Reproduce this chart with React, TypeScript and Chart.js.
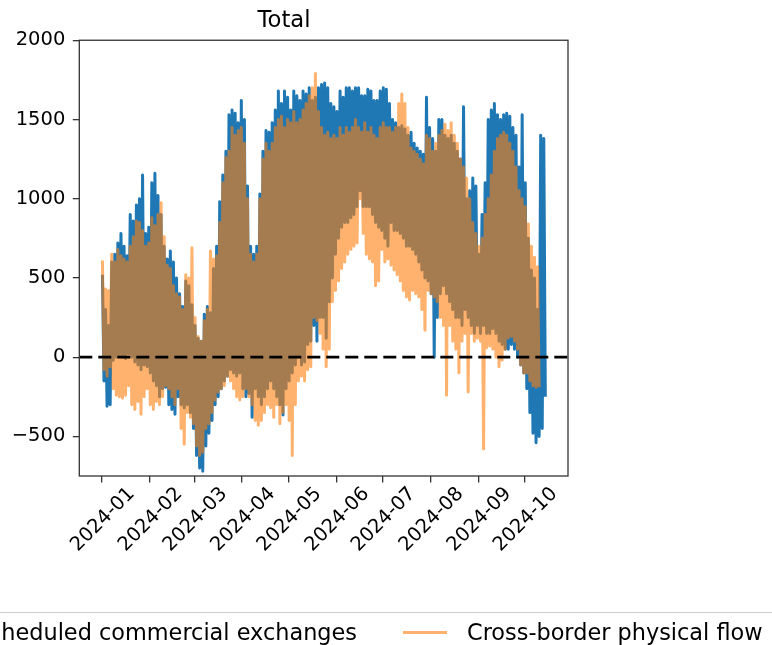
import React, { useEffect, useRef } from 'react';
import { Chart, registerables } from 'chart.js';

Chart.register(...registerables);

// Month tick positions (days since 2024-01-01) and labels
const monthTickDays = [0, 31, 60, 91, 121, 152, 182, 213, 244, 274];
const monthLabels = ['2024-01', '2024-02', '2024-03', '2024-04', '2024-05', '2024-06', '2024-07', '2024-08', '2024-09', '2024-10'];
const yTicks = [-500, 0, 500, 1000, 1500, 2000];

// Each entry = one 2-day period starting 2024-01-01 (high then low of the period)
const scheduledHigh = [
  520, 300, 200, 600, 650, 720, 780, 700, 640, 900,
  860, 960, 1000, 1150, 780, 820, 1100, 1160, 1020, 900,
  700, 620, 670, 600, 500, 400, 320, 480, 450, 330,
  200, 120, 100, 270, 320, 280, 560, 700, 980, 1150,
  1300, 1530, 1560, 1540, 1480, 1620, 1500, 1080, 700, 650,
  700, 1030, 1300, 1430, 1420, 1480, 1560, 1680, 1600, 1680,
  1640, 1560, 1680, 1650, 1620, 1680, 1660, 1700, 1620, 1640,
  1700, 1720, 1730, 1700, 1600, 1580, 1550, 1680, 1640, 1700,
  1700, 1680, 1700, 1700, 1650, 1650, 1690, 1680, 1620, 1620,
  1680, 1700, 1690, 1600, 1500, 1480, 1450, 1460, 1440, 1400,
  1420, 1350, 1320, 1300, 1280, 1640, 1450, 1380, 1300, 1500,
  1500, 1400, 1380, 1400, 1350, 1300, 1250, 1580, 1000, 1050,
  1130, 1080, 650, 900, 1100, 1500, 1560, 1600, 1530, 1500,
  1530, 1540, 1520, 1450, 1400, 1200, 1530, 1100, 750, 550,
  500, 300, 1400, 1380,
];
const scheduledLow = [
  -150, -310, -300, -20, 0, 10, 0, -10, 20, 0,
  -30, -50, -80, -50, -60, -100, -150, -180, -250, -200,
  -190, -300, -330, -360, -250, -300, -320, -300, -350, -450,
  -620, -700, -720, -560, -480, -400, -300, -250, -200, -150,
  -120, -80, -100, -120, -100, -200, -250, -230, -380, -200,
  -250, -300, -250, -200, -150, -200, -250, -300, -365, -200,
  -150, -100, -50, 0, -50, -30, 80, 100, 200, 100,
  250, 250, 120, 350, 500, 650, 750, 820, 850, 850,
  880, 900, 950, 1050, 950, 950, 950, 900, 850, 820,
  800, 750, 700, 850, 800, 800, 780, 750, 700, 700,
  680, 650, 600, 550, 500, 480, 400, 0, 250, 400,
  450, 400, 350, 300, 250, 250, 200, 300, 250, 200,
  150, 200, 150, 200, 150, 150, 180, 150, 100, 80,
  50, 50, 80, 50, 0, -50, -100, -200, -350, -480,
  -540, -500, -450, -250,
];
const physicalHigh = [
  610, 430, 420, 650, 600, 680, 640, 620, 600, 700,
  760, 860, 850, 800, 700, 720, 880, 830, 900, 975,
  760, 580, 560, 450, 400, 380, 300, 520, 500, 690,
  250, 130, 100, 230, 300, 670, 620, 640, 850, 1100,
  1260, 1300, 1450, 1400, 1430, 1450, 1350, 1000, 650, 600,
  650, 1000, 1250, 1350, 1300, 1350, 1450, 1500, 1520, 1450,
  1500, 1480, 1550, 1480, 1500, 1560, 1600, 1650, 1700, 1790,
  1550, 1450, 1400, 1420, 1380, 1400, 1380, 1450, 1400, 1450,
  1420, 1450, 1500, 1450, 1420, 1480, 1420, 1450, 1400, 1380,
  1450, 1480, 1450, 1450, 1420, 1450, 1600, 1660, 1600, 1450,
  1320, 1300, 1280, 1250, 1220, 1400, 1380, 1300, 1350, 1400,
  1430, 1470, 1430, 1480, 1400, 1350, 1250, 1200, 1130, 1000,
  850, 780, 700, 750, 900, 1000, 1150, 1300, 1380, 1400,
  1420, 1400, 1350, 1300, 1200, 1050, 1000, 950, 840, 700,
  630, 570,
];
const physicalLow = [
  -80, -120, -60, -200, -240, -250, -260, -240, -180, -300,
  -330, -280, -360, -250, -200, -300, -330, -280, -300, -250,
  -180, -200, -250, -300, -200, -450, -550, -350, -380, -420,
  -560, -620, -600, -450, -420, -350, -270, -220, -200, -180,
  -120, -150, -200, -250, -270, -250, -200, -250, -300, -400,
  -430, -400, -350, -300, -320, -380, -300, -420, -350, -300,
  -400, -620, -300, -150, -120, -150, -80, -60, 250, 230,
  150, 50, -60, 50, 350, 420, 480, 560, 600, 650,
  680, 700, 720, 1000, 780, 650, 620, 600, 450, 480,
  680, 600, 620, 580, 550, 520, 480, 420, 380, 360,
  420, 400, 380, 300, 170, 420, 400, 380, 350, 250,
  200, -240, 200, 100, 50, -100, 100, 150, -220, 150,
  100, 120, 100, -580, 60, 70, 50, 0, -60, -20,
  50, 120, 130, 100, 50, -50, -100, -100, -150, -180,
  -190, -190,
];

const X_MIN = -14.5;
const X_MAX = 302.2;

function buildSeries(high: number[], low: number[]) {
  const pts: { x: number; y: number }[] = [];
  high.forEach((h, k) => {
    pts.push({ x: k * 2 + 0.5, y: h });
    pts.push({ x: k * 2 + 1.5, y: low[k] });
  });
  return pts;
}

const framePlugin = {
  id: 'frame',
  afterDatasetsDraw(chart: any) {
    const { ctx, chartArea: a } = chart;
    ctx.save();
    ctx.strokeStyle = '#333';
    ctx.lineWidth = 1.3;
    ctx.strokeRect(a.left, a.top, a.right - a.left, a.bottom - a.top);
    ctx.restore();
  },
};

const FONT = 'DejaVu Sans';

export default function App() {
  const ref = useRef<HTMLCanvasElement | null>(null);

  useEffect(() => {
    if (!ref.current) return;
    const tickFont = { family: FONT, size: 19.5 };
    const chart = new Chart(ref.current, {
      type: 'line',
      data: {
        datasets: [
          {
            label: 'zero',
            data: [{ x: X_MIN, y: 0 }, { x: X_MAX, y: 0 }],
            borderColor: '#000',
            borderWidth: 2.8,
            borderDash: [13, 6],
            pointRadius: 0,
            order: 0,
          },
          {
            label: 'Cross-border physical flow',
            data: buildSeries(physicalHigh, physicalLow),
            borderColor: 'rgba(255,127,14,0.6)',
            borderWidth: 3,
            borderJoinStyle: 'round',
            pointRadius: 0,
            tension: 0,
            order: 1,
          },
          {
            label: 'Scheduled commercial exchanges',
            data: buildSeries(scheduledHigh, scheduledLow),
            borderColor: '#1f77b4',
            borderWidth: 3,
            borderJoinStyle: 'round',
            pointRadius: 0,
            tension: 0,
            order: 2,
          },
        ] as any,
      },
      options: {
        animation: false,
        responsive: false,
        maintainAspectRatio: false,
        events: [],
        layout: { padding: { left: 0, right: 204, top: 0, bottom: 0 } },
        plugins: {
          legend: { display: false },
          tooltip: { enabled: false },
          title: {
            display: true,
            text: 'Total',
            color: '#000',
            font: { family: FONT, size: 22.7, weight: 'normal' },
            padding: { top: 7, bottom: 6 },
          },
        },
        scales: {
          x: {
            type: 'linear',
            min: X_MIN,
            max: X_MAX,
            afterBuildTicks: (s: any) => {
              s.ticks = monthTickDays.map((v) => ({ value: v }));
            },
            afterFit: (s: any) => {
              s.height = 169;
            },
            ticks: {
              autoSkip: false,
              maxRotation: 45,
              minRotation: 45,
              color: '#000',
              font: tickFont,
              padding: 0,
              labelOffset: 30,
              callback: (_v: any, i: number) => monthLabels[i],
            },
            grid: { display: true, drawOnChartArea: false, drawTicks: true, tickLength: 6.5, color: '#333', lineWidth: 1.3 },
            border: { display: false },
          },
          y: {
            type: 'linear',
            min: -750,
            max: 2000,
            afterBuildTicks: (s: any) => {
              s.ticks = yTicks.map((v) => ({ value: v }));
            },
            afterFit: (s: any) => {
              s.width = 79.3;
            },
            ticks: {
              color: '#000',
              font: tickFont,
              padding: 7.5,
              callback: (v: any) => (Number(v) < 0 ? '\u2212' + Math.abs(Number(v)) : String(v)),
            },
            grid: { display: true, drawOnChartArea: false, drawTicks: true, tickLength: 6.5, color: '#333', lineWidth: 1.3 },
            border: { display: false },
          },
        },
      } as any,
      plugins: [framePlugin],
    });
    return () => chart.destroy();
  }, []);

  const legendText: React.CSSProperties = {
    position: 'absolute',
    top: 618,
    height: 28,
    lineHeight: '28px',
    fontFamily: FONT,
    fontSize: 22.4,
    color: '#000',
    whiteSpace: 'nowrap',
  };

  return (
    <div style={{ position: 'fixed', left: 0, top: 0, width: 772, height: 645, overflow: 'hidden', background: '#fff' }}>
      <canvas ref={ref} width={772} height={645} style={{ position: 'absolute', left: 0, top: 0, width: 772, height: 645 }} />
      <div
        style={{
          position: 'absolute',
          left: -200,
          right: -200,
          top: 612,
          height: 60,
          border: '1px solid #cccccc',
          borderRadius: 5,
          boxSizing: 'border-box',
          background: 'rgba(255,255,255,0.8)',
        }}
      />
      <div style={{ position: 'absolute', left: -89, top: 631, width: 45, height: 2.5, background: '#1f77b4' }} />
      <div style={{ ...legendText, right: 415, textAlign: 'right' }}>Scheduled commercial exchanges</div>
      <div style={{ position: 'absolute', left: 403, top: 631, width: 44, height: 2.5, background: 'rgba(255,127,14,0.6)' }} />
      <div style={{ ...legendText, left: 467 }}>Cross-border physical flow</div>
    </div>
  );
}
